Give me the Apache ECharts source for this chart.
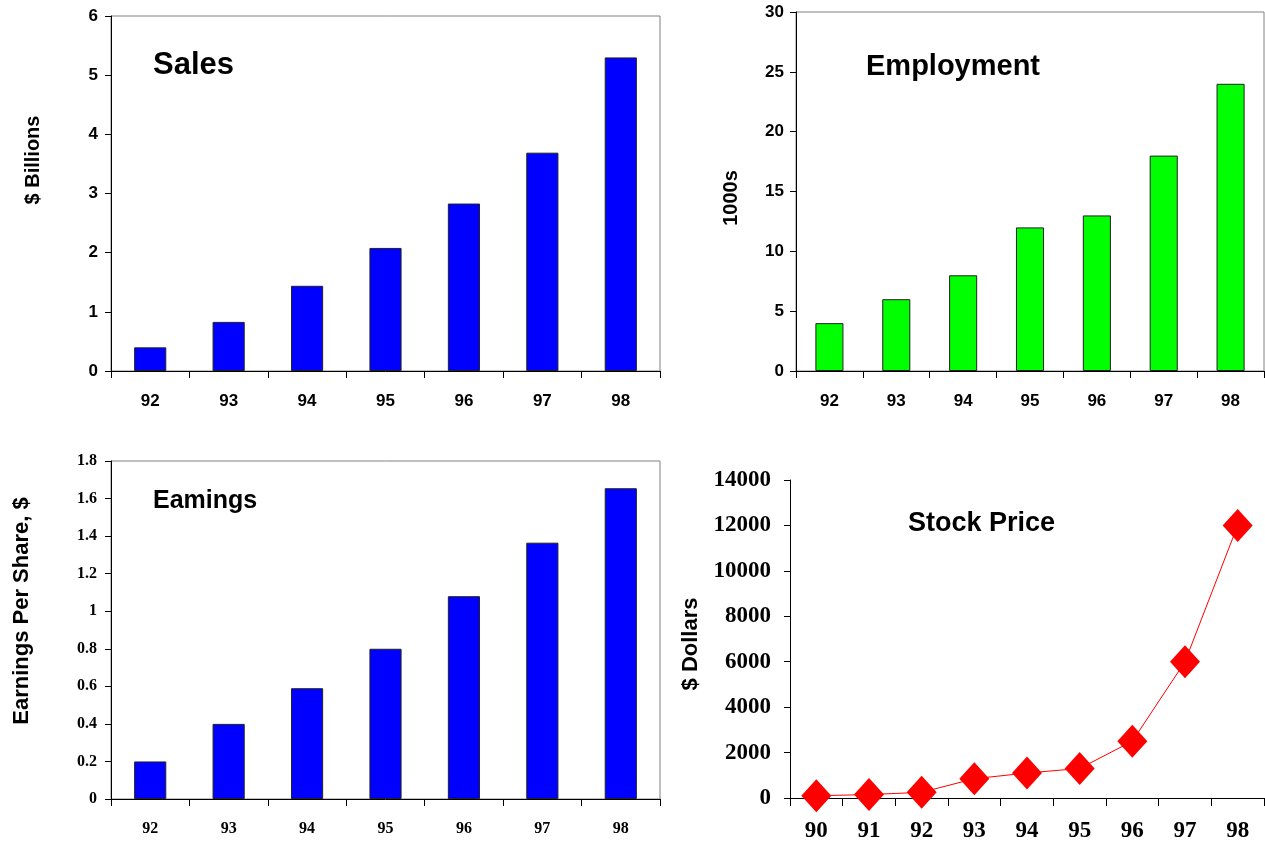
<!DOCTYPE html>
<html>
<head>
<meta charset="utf-8">
<script src="https://cdn.jsdelivr.net/npm/echarts@6/dist/echarts.min.js"></script>
<style>html,body{margin:0;padding:0;background:#fff;}#c{width:1265px;height:846px;}</style>
</head>
<body>
<div id="c"></div>
<script>
// ---- data ----
var yearsShort = ['92', '93', '94', '95', '96', '97', '98'];
var yearsStock = ['90', '91', '92', '93', '94', '95', '96', '97', '98'];
var salesValues = [0.40, 0.83, 1.44, 2.08, 2.83, 3.69, 5.30];
var employmentValues = [4, 6, 8, 12, 13, 18, 24];
var earningsValues = [0.20, 0.40, 0.59, 0.80, 1.08, 1.365, 1.655];
var stockValues = [100, 150, 250, 850, 1100, 1300, 2500, 6000, 12000];
var chartTitles = ['Sales', 'Employment', 'Eamings', 'Stock Price'];
var axisNames = ['$ Billions', '1000s', 'Earnings Per Share, $', '$ Dollars'];

var SANS = 'Liberation Sans, Arial, sans-serif';
var SERIF = 'Liberation Serif, Times New Roman, serif';

var chart = echarts.init(document.getElementById('c'));

function xAx(idx, data, font, size, margin, tickLen) {
  return {
    type: 'category', gridIndex: idx, data: data, boundaryGap: true,
    axisLine: { lineStyle: { color: '#000', width: 1 } },
    axisTick: { show: true, length: tickLen, interval: 0, lineStyle: { color: '#000' } },
    axisLabel: { color: '#000', fontFamily: font, fontWeight: 'bold', fontSize: size, margin: margin, interval: 0 },
    splitLine: { show: false }
  };
}
function yAx(idx, max, interval, font, size, margin) {
  return {
    type: 'value', gridIndex: idx, min: 0, max: max, interval: interval,
    axisLine: { show: true, lineStyle: { color: '#000', width: 1 } },
    axisTick: { show: true, length: 6, lineStyle: { color: '#000' } },
    axisLabel: { color: '#000', fontFamily: font, fontWeight: 'bold', fontSize: size, margin: margin,
      formatter: function (v) { return String(Math.round(v * 1000) / 1000); } },
    splitLine: { show: false }
  };
}

var barBorder = { borderColor: '#222', borderWidth: 1 };

var option = {
  animation: false,
  backgroundColor: '#fff',
  grid: [
    { left: 111, top: 16, width: 549, height: 355, show: true, borderColor: '#808080', borderWidth: 1, backgroundColor: 'transparent' },
    { left: 796, top: 12, width: 468, height: 359, show: true, borderColor: '#808080', borderWidth: 1, backgroundColor: 'transparent' },
    { left: 111, top: 461, width: 549, height: 338, show: true, borderColor: '#808080', borderWidth: 1, backgroundColor: 'transparent' },
    { left: 790, top: 480, width: 474, height: 318, show: false }
  ],
  title: [
    { text: chartTitles[0], left: 153, top: 50, padding: 0, textStyle: { fontFamily: SANS, fontWeight: 'bold', fontSize: 31, color: '#000' } },
    { text: chartTitles[1], left: 866, top: 52, padding: 0, textStyle: { fontFamily: SANS, fontWeight: 'bold', fontSize: 29, color: '#000' } },
    { text: chartTitles[2], left: 153, top: 489, padding: 0, textStyle: { fontFamily: SANS, fontWeight: 'bold', fontSize: 25, color: '#000' } },
    { text: chartTitles[3], left: 908, top: 510, padding: 0, textStyle: { fontFamily: SANS, fontWeight: 'bold', fontSize: 27, color: '#000' } }
  ],
  graphic: [
    { type: 'text', x: 33, y: 160, rotation: Math.PI / 2, style: { text: axisNames[0], fontFamily: SANS, fontWeight: 'bold', fontSize: 20, fill: '#000', textAlign: 'center', textVerticalAlign: 'middle' } },
    { type: 'text', x: 731, y: 198, rotation: Math.PI / 2, style: { text: axisNames[1], fontFamily: SANS, fontWeight: 'bold', fontSize: 20, fill: '#000', textAlign: 'center', textVerticalAlign: 'middle' } },
    { type: 'text', x: 22, y: 611, rotation: Math.PI / 2, style: { text: axisNames[2], fontFamily: SANS, fontWeight: 'bold', fontSize: 22, fill: '#000', textAlign: 'center', textVerticalAlign: 'middle' } },
    { type: 'text', x: 691, y: 644, rotation: Math.PI / 2, style: { text: axisNames[3], fontFamily: SANS, fontWeight: 'bold', fontSize: 22, fill: '#000', textAlign: 'center', textVerticalAlign: 'middle' } }
  ],
  xAxis: [
    xAx(0, yearsShort, SANS, 17, 22, 7),
    xAx(1, yearsShort, SANS, 17, 22, 7),
    xAx(2, yearsShort, SERIF, 16, 22, 7),
    xAx(3, yearsStock, SERIF, 23, 22, 8)
  ],
  yAxis: [
    yAx(0, 6, 1, SANS, 17, 13),
    yAx(1, 30, 5, SANS, 17, 12),
    yAx(2, 1.8, 0.2, SERIF, 16, 14),
    yAx(3, 14000, 2000, SERIF, 23, 19)
  ],
  series: [
    { type: 'bar', xAxisIndex: 0, yAxisIndex: 0, data: salesValues, barWidth: '41%', itemStyle: Object.assign({ color: '#0000FF' }, barBorder) },
    { type: 'bar', xAxisIndex: 1, yAxisIndex: 1, data: employmentValues, barWidth: '42%', itemStyle: Object.assign({ color: '#00FF00' }, barBorder) },
    { type: 'bar', xAxisIndex: 2, yAxisIndex: 2, data: earningsValues, barWidth: '41%', itemStyle: Object.assign({ color: '#0000FF' }, barBorder) },
    { type: 'line', xAxisIndex: 3, yAxisIndex: 3, data: stockValues, symbol: 'diamond', symbolSize: [30, 33],
      lineStyle: { color: '#FF0000', width: 1 }, itemStyle: { color: '#FF0000' } }
  ]
};
chart.setOption(option);
</script>
</body>
</html>
